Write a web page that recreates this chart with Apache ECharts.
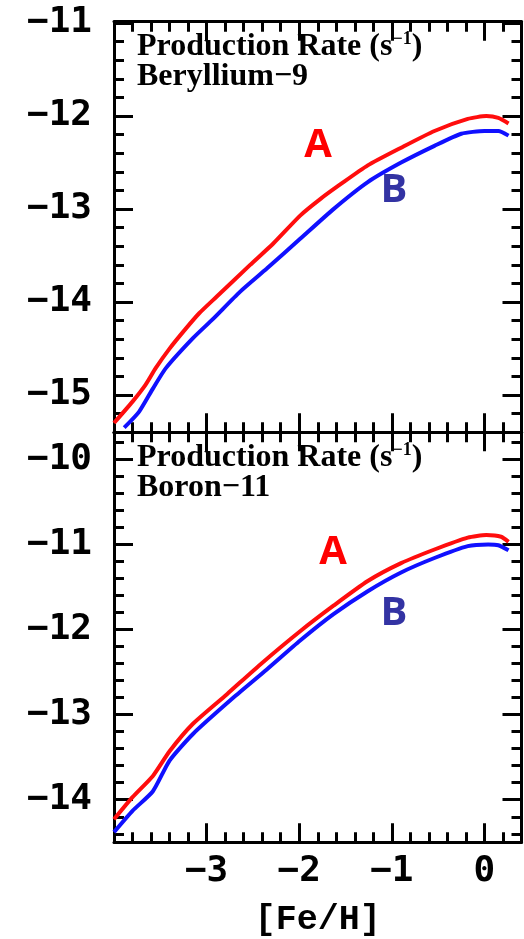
<!DOCTYPE html>
<html><head><meta charset="utf-8">
<script src="https://cdn.jsdelivr.net/npm/echarts@6/dist/echarts.min.js"></script>
<style>html,body{margin:0;padding:0;background:#fff}#c{width:524px;height:939px}</style>
</head><body><div id="c"></div>
<script>
// ---- data ----
const beAx = [-4.00,-3.80,-3.66,-3.55,-3.40,-3.22,-3.08,-2.89,-2.53,-2.28,-1.99,-1.77,-1.55,-1.26,-0.90,-0.54,-0.18,0.02,0.15,0.26];
const beAy = [-15.30,-15.07,-14.89,-14.71,-14.50,-14.28,-14.12,-13.94,-13.60,-13.37,-13.07,-12.89,-12.73,-12.53,-12.34,-12.16,-12.03,-12.00,-12.02,-12.08];
const beBx = [-3.89,-3.73,-3.58,-3.44,-3.15,-2.93,-2.64,-2.35,-1.99,-1.63,-1.26,-0.90,-0.54,-0.25,0.00,0.15,0.26];
const beBy = [-15.35,-15.18,-14.93,-14.71,-14.39,-14.18,-13.89,-13.64,-13.32,-13.00,-12.71,-12.50,-12.32,-12.19,-12.16,-12.16,-12.21];
const bAx = [-4.00,-3.80,-3.58,-3.40,-3.15,-2.78,-2.42,-1.99,-1.63,-1.26,-0.90,-0.54,-0.18,0.02,0.18,0.26];
const bAy = [-14.23,-13.97,-13.72,-13.43,-13.11,-12.76,-12.41,-12.02,-11.72,-11.43,-11.22,-11.06,-10.92,-10.89,-10.91,-10.97];
const bBx = [-4.00,-3.80,-3.58,-3.40,-3.15,-2.71,-2.35,-1.99,-1.63,-1.26,-0.90,-0.54,-0.18,0.04,0.15,0.26];
const bBy = [-14.38,-14.13,-13.90,-13.54,-13.23,-12.80,-12.47,-12.13,-11.82,-11.55,-11.33,-11.16,-11.02,-11.00,-11.01,-11.07];

const xTicks = [-3,-2,-1,0];
const beYTicks = [-15,-14,-13,-12,-11];
const bYTicks = [-14,-13,-12,-11,-10];
const xName = '[Fe/H]';
const panelTitle = 'Production Rate (s';
const panelNames = ['Beryllium\u22129','Boron\u221211'];
const seriesNames = ['A','B'];

// ---- layout / style ----
const X_MIN = -4.0, X_MAX = 0.4;
const Y_RANGES = [[-15.4,-10.985],[-14.5,-9.683]];
const GRIDS = [{left:114, top:21.7, width:407.5, height:410.6},{left:114, top:432.3, width:407.5, height:410}];
const BLACK = '#000';

function minors(lo, hi, step){
  const out=[]; const a=Math.ceil(lo/step-1e-9), b=Math.floor(hi/step+1e-9);
  for(let k=a;k<=b;k++){ const v=+(k*step).toFixed(6); if(Math.abs(v-Math.round(v))>1e-6) out.push(v); }
  return out;
}
const fmt = v => (v<0 ? '\u2212'+Math.abs(v) : String(v));
const pair = (xs,ys) => xs.map((x,i)=>[x,ys[i]]);

function axis(kind, g, pos, major, ticks, range, showLabel){
  const vals = major ? ticks : minors(range[0], range[1], 0.2);
  return {
    type:'value', gridIndex:g, position:pos, min:range[0], max:range[1],
    axisLine:{show:major, onZero:false, lineStyle:{color:BLACK, width:3}},
    axisTick:{show:true, inside:true, length: major?19:10, customValues: vals, lineStyle:{color:BLACK, width:3}},
    axisLabel:{show: showLabel, customValues: ticks, formatter: fmt, color:BLACK,
      fontFamily:'DejaVu Sans Mono', fontWeight:'bold', fontSize:36, margin: kind==='x'?11:22},
    splitLine:{show:false}, minorTick:{show:false}, minorSplitLine:{show:false}
  };
}

const xAxes=[], yAxes=[];
for(let g=0; g<2; g++){
  const yr = Y_RANGES[g], yt = g===0?beYTicks:bYTicks, xr=[X_MIN,X_MAX];
  const xb = axis('x',g,'bottom',true,xTicks,xr,g===1);
  if(g===1){ xb.name = xName; xb.nameLocation='middle'; xb.nameGap=60;
    xb.nameTextStyle={fontFamily:'Liberation Mono', fontWeight:'bold', fontSize:35, color:BLACK}; }
  xAxes.push(xb);
  xAxes.push(axis('x',g,'bottom',false,xTicks,xr,false));
  xAxes.push(axis('x',g,'top',true,xTicks,xr,false));
  xAxes.push(axis('x',g,'top',false,xTicks,xr,false));
  yAxes.push(axis('y',g,'left',true,yt,yr,true));
  yAxes.push(axis('y',g,'left',false,yt,yr,false));
  yAxes.push(axis('y',g,'right',true,yt,yr,false));
  yAxes.push(axis('y',g,'right',false,yt,yr,false));
}

const lineS = (name, data, g, color) => ({
  type:'line', name, data, xAxisIndex:4*g, yAxisIndex:4*g, showSymbol:false, symbol:'none',
  smooth:0.2, clip:true, lineStyle:{color, width:4}, silent:true, animation:false
});

const RED='#ff0d0d', BLUE='#1010ff';
const series = [
  lineS(seriesNames[0], pair(beAx,beAy), 0, RED),
  lineS(seriesNames[1], pair(beBx,beBy), 0, BLUE),
  lineS(seriesNames[0], pair(bAx,bAy), 1, RED),
  lineS(seriesNames[1], pair(bBx,bBy), 1, BLUE)
];

const titleRich = {
  a:{fontFamily:'Liberation Serif', fontWeight:'bold', fontSize:32, fill:BLACK, lineHeight:34},
  sup:{fontFamily:'Liberation Serif', fontWeight:'bold', fontSize:18, fill:BLACK, verticalAlign:'top', lineHeight:34}
};
function titleEls(y1, y2, name){
  return [
    {type:'text', left:137, top:y1, style:{text:'{a|'+panelTitle+'}{sup|\u22121}{a|)}', rich:titleRich}},
    {type:'text', left:137, top:y2, style:{text:name, fontFamily:'Liberation Serif', fontWeight:'bold', fontSize:32, fill:BLACK}}
  ];
}
const lab = (t, x, y, color) => ({type:'text', x, y, style:{text:t, fontFamily:'Open Sans', fontWeight:'bold', fontSize:40, fill:color, align:'center', verticalAlign:'middle'}});

const chart = echarts.init(document.getElementById('c'), null, {renderer:'canvas'});
chart.setOption({
  animation:false,
  backgroundColor:'#fff',
  grid: GRIDS.map(g=>Object.assign({containLabel:false, outerBoundsMode:'none'}, g)),
  xAxis: xAxes, yAxis: yAxes, series,
  graphic: [
    ...titleEls(30, 61, panelNames[0]),
    ...titleEls(441, 472, panelNames[1]),
    lab(seriesNames[0], 318, 146, '#ff0000'),
    lab(seriesNames[1], 394, 191, '#3333a3'),
    lab(seriesNames[0], 333, 553, '#ff0000'),
    lab(seriesNames[1], 394, 614, '#3333a3')
  ]
});
</script></body></html>
